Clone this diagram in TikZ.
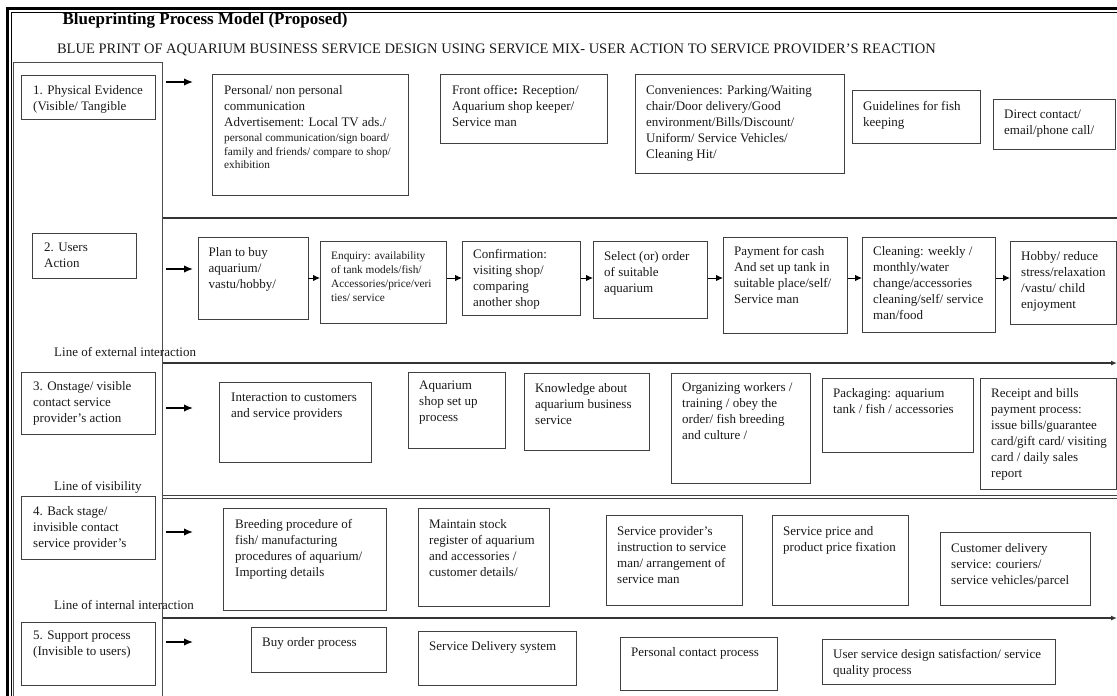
\documentclass[tikz,border=0pt]{standalone}
\usepackage{fontspec}
\setmainfont{Liberation Serif}
\usetikzlibrary{arrows.meta}
\newcommand{\sm}{\fontsize{11.3}{14}\selectfont}

\begin{document}
\begin{tikzpicture}[x=1pt,y=-1pt,>={Latex[length=6pt,width=5pt]},
box/.style={draw=black!75,line width=0.9pt,anchor=north west,inner sep=0pt},
txt/.style={anchor=north west,align=left,inner sep=0pt,text=black!90,font=\fontsize{13}{16}\selectfont},
lane/.style={draw=black!80,line width=1.3pt},
pil/.style={-{Latex[length=9pt,width=7.5pt]},line width=1.5pt},
flow/.style={-{Latex[length=7pt,width=6.5pt]},line width=1pt}]

\useasboundingbox (0,0) rectangle (1117,696);

%frame
\draw[line width=2.5pt] (7.5,696) -- (7.5,8.5) -- (1117,8.5);
\draw[line width=1pt] (11.8,696) -- (11.8,12.3) -- (1117,12.3);
\draw[draw=black!70,line width=1pt] (13.5,696) -- (13.5,62) -- (162.5,62) -- (162.5,696);

\node[anchor=base west,font=\fontsize{17}{20}\selectfont\bfseries] (title) at (59,24) {Blueprinting Process Model (Proposed)};
\node[anchor=base west,font=\fontsize{14.5}{17}\selectfont,text=black!90] (subtitle) at (53.5,53) {BLUE PRINT OF AQUARIUM BUSINESS SERVICE DESIGN USING SERVICE MIX- USER ACTION TO SERVICE PROVIDER’S REACTION};

%lanes
\draw[lane] (162.5,218) -- (1117,218);
\draw[lane,->] (162.5,363) -- (1117,363);
\draw[draw=black!75,line width=0.8pt,double,double distance=2pt] (162.5,497) -- (1117,497);
\draw[lane,->] (162.5,618) -- (1117,618);
\node[txt,anchor=base west] (extline) at (54,356) {Line of external interaction};
\node[txt,anchor=base west] (visline) at (54,490) {Line of visibility};
\node[txt,anchor=base west] (intline) at (54,609) {Line of internal interaction};

%left labels
\node[box,minimum width=134,minimum height=44] (lab1) at (21,75) {};
\node[txt] (lab1t) at ([shift={(12,10)}]lab1.north west) {1. Physical Evidence\\(Visible/ Tangible};
\node[box,minimum width=104,minimum height=45] (lab2) at (32,233) {};
\node[txt] (lab2t) at ([shift={(12,10)}]lab2.north west) {2. Users\\Action};
\node[box,minimum width=134,minimum height=62] (lab3) at (21,372) {};
\node[txt] (lab3t) at ([shift={(12,9)}]lab3.north west) {3. Onstage/ visible\\contact service\\provider’s action};
\node[box,minimum width=134,minimum height=63] (lab4) at (21,496) {};
\node[txt] (lab4t) at ([shift={(12,10)}]lab4.north west) {4. Back stage/\\invisible contact\\service provider’s};
\node[box,minimum width=134,minimum height=63] (lab5) at (21,622) {};
\node[txt] (lab5t) at ([shift={(12,9)}]lab5.north west) {5. Support process\\(Invisible to users)};

\coordinate (ar1a) at (166,82);  \coordinate (ar1b) at (193,82);
\coordinate (ar2a) at (166,269); \coordinate (ar2b) at (193,269);
\coordinate (ar3a) at (166,408); \coordinate (ar3b) at (193,408);
\coordinate (ar4a) at (166,532); \coordinate (ar4b) at (193,532);
\coordinate (ar5a) at (166,642); \coordinate (ar5b) at (193,642);
\draw[pil] (ar1a) -- (ar1b);
\draw[pil] (ar2a) -- (ar2b);
\draw[pil] (ar3a) -- (ar3b);
\draw[pil] (ar4a) -- (ar4b);
\draw[pil] (ar5a) -- (ar5b);

%physical evidence
\node[box,minimum width=196,minimum height=121] (pe1) at (212,74) {};
\node[txt] (pe1t) at ([shift={(12,11)}]pe1.north west) {Personal/ non personal\\communication\\Advertisement: Local TV ads./\\[-0.5pt]
\sm personal communication/sign board/\\[-2.5pt] \sm family and friends/ compare to shop/\\[-2.5pt] \sm exhibition};
\node[box,minimum width=167,minimum height=69] (pe2) at (440,74) {};
\node[txt] (pe2t) at ([shift={(12,11)}]pe2.north west) {Front office\textbf{:} Reception/\\Aquarium shop keeper/\\Service man};
\node[box,minimum width=209,minimum height=99] (pe3) at (635,74) {};
\node[txt] (pe3t) at ([shift={(11,11)}]pe3.north west) {Conveniences: Parking/Waiting\\chair/Door delivery/Good\\environment/Bills/Discount/\\Uniform/ Service Vehicles/\\Cleaning Hit/};
\node[box,minimum width=128,minimum height=53] (pe4) at (852,90) {};
\node[txt] (pe4t) at ([shift={(11,11)}]pe4.north west) {Guidelines for fish\\keeping};
\node[box,minimum width=122,minimum height=50] (pe5) at (993,99) {};
\node[txt] (pe5t) at ([shift={(11,11)}]pe5.north west) {Direct contact/\\email/phone call/};

%users action
\coordinate (rowtwo) at (0,278);
\node[box,minimum width=110,minimum height=82] (ua1) at (197.5,237) {};
\node[txt] (ua1t) at ([shift={(11,10)}]ua1.north west) {Plan to buy\\aquarium/\\vastu/hobby/};
\node[box,minimum width=126,minimum height=82] (ua2) at (320,241) {};
\node[txt,font=\sm] (ua2t) at ([shift={(11,10)}]ua2.north west) {Enquiry: availability\\of tank models/fish/\\Accessories/price/veri\\ties/ service};
\node[box,minimum width=118,minimum height=74] (ua3) at (462,241) {};
\node[txt] (ua3t) at ([shift={(11,8)}]ua3.north west) {Confirmation:\\visiting shop/\\comparing\\another shop};
\node[box,minimum width=114,minimum height=77] (ua4) at (593,241) {};
\node[txt] (ua4t) at ([shift={(11,10)}]ua4.north west) {Select (or) order\\of suitable\\aquarium};
\node[box,minimum width=124,minimum height=96] (ua5) at (723,237) {};
\node[txt] (ua5t) at ([shift={(11,9)}]ua5.north west) {Payment for cash\\And set up tank in\\suitable place/self/\\Service man};
\node[box,minimum width=133,minimum height=95] (ua6) at (862,237) {};
\node[txt] (ua6t) at ([shift={(11,9)}]ua6.north west) {Cleaning: weekly /\\monthly/water\\change/accessories\\cleaning/self/ service\\man/food};
\node[box,minimum width=106,minimum height=83] (ua7) at (1010,241) {};
\node[txt] (ua7t) at ([shift={(11,10)}]ua7.north west) {Hobby/ reduce\\stress/relaxation\\/vastu/ child\\enjoyment};
\draw[flow] (ua1.east |- rowtwo) -- (ua2.west |- rowtwo);
\draw[flow] (ua2.east |- rowtwo) -- (ua3.west |- rowtwo);
\draw[flow] (ua3.east |- rowtwo) -- (ua4.west |- rowtwo);
\draw[flow] (ua4.east |- rowtwo) -- (ua5.west |- rowtwo);
\draw[flow] (ua5.east |- rowtwo) -- (ua6.west |- rowtwo);
\draw[flow] (ua6.east |- rowtwo) -- (ua7.west |- rowtwo);

%onstage
\node[box,minimum width=152,minimum height=80] (os1) at (219,382) {};
\node[txt] (os1t) at ([shift={(12,11)}]os1.north west) {Interaction to customers\\and service providers};
\node[box,minimum width=97,minimum height=76] (os2) at (408,372) {};
\node[txt] (os2t) at ([shift={(11,9)}]os2.north west) {Aquarium\\shop set up\\process};
\node[box,minimum width=125,minimum height=77] (os3) at (524,373) {};
\node[txt] (os3t) at ([shift={(11,10)}]os3.north west) {Knowledge about\\aquarium business\\service};
\node[box,minimum width=139,minimum height=110] (os4) at (671,373) {};
\node[txt] (os4t) at ([shift={(11,9)}]os4.north west) {Organizing workers /\\training / obey the\\order/ fish breeding\\and culture /};
\node[box,minimum width=151,minimum height=74] (os5) at (822,378) {};
\node[txt] (os5t) at ([shift={(11,10)}]os5.north west) {Packaging: aquarium\\tank / fish / accessories};
\node[box,minimum width=136,minimum height=111] (os6) at (980,378) {};
\node[txt] (os6t) at ([shift={(11,10)}]os6.north west) {Receipt and bills\\payment process:\\issue bills/guarantee\\card/gift card/ visiting\\card / daily sales\\report};

%back stage
\node[box,minimum width=163,minimum height=102] (bs1) at (223,508) {};
\node[txt] (bs1t) at ([shift={(12,11)}]bs1.north west) {Breeding procedure of\\fish/ manufacturing\\procedures of aquarium/\\Importing details};
\node[box,minimum width=131,minimum height=98] (bs2) at (418,508) {};
\node[txt] (bs2t) at ([shift={(11,11)}]bs2.north west) {Maintain stock\\register of aquarium\\and accessories /\\customer details/};
\node[box,minimum width=136,minimum height=90] (bs3) at (606,515) {};
\node[txt] (bs3t) at ([shift={(11,11)}]bs3.north west) {Service provider’s\\instruction to service\\man/ arrangement of\\service man};
\node[box,minimum width=136,minimum height=90] (bs4) at (772,515) {};
\node[txt] (bs4t) at ([shift={(11,11)}]bs4.north west) {Service price and\\product price fixation};
\node[box,minimum width=150,minimum height=73] (bs5) at (940,532) {};
\node[txt] (bs5t) at ([shift={(11,11)}]bs5.north west) {Customer delivery\\service: couriers/\\service vehicles/parcel};

%support
\node[box,minimum width=135,minimum height=45] (sp1) at (251,627) {};
\node[txt] (sp1t) at ([shift={(11,10)}]sp1.north west) {Buy order process};
\node[box,minimum width=158,minimum height=54] (sp2) at (418,631) {};
\node[txt] (sp2t) at ([shift={(11,10)}]sp2.north west) {Service Delivery system};
\node[box,minimum width=157,minimum height=53] (sp3) at (620,637) {};
\node[txt] (sp3t) at ([shift={(11,10)}]sp3.north west) {Personal contact process};
\node[box,minimum width=233,minimum height=45] (sp4) at (822,639) {};
\node[txt] (sp4t) at ([shift={(11,10)}]sp4.north west) {User service design satisfaction/ service\\quality process};
\end{tikzpicture}
\end{document}
